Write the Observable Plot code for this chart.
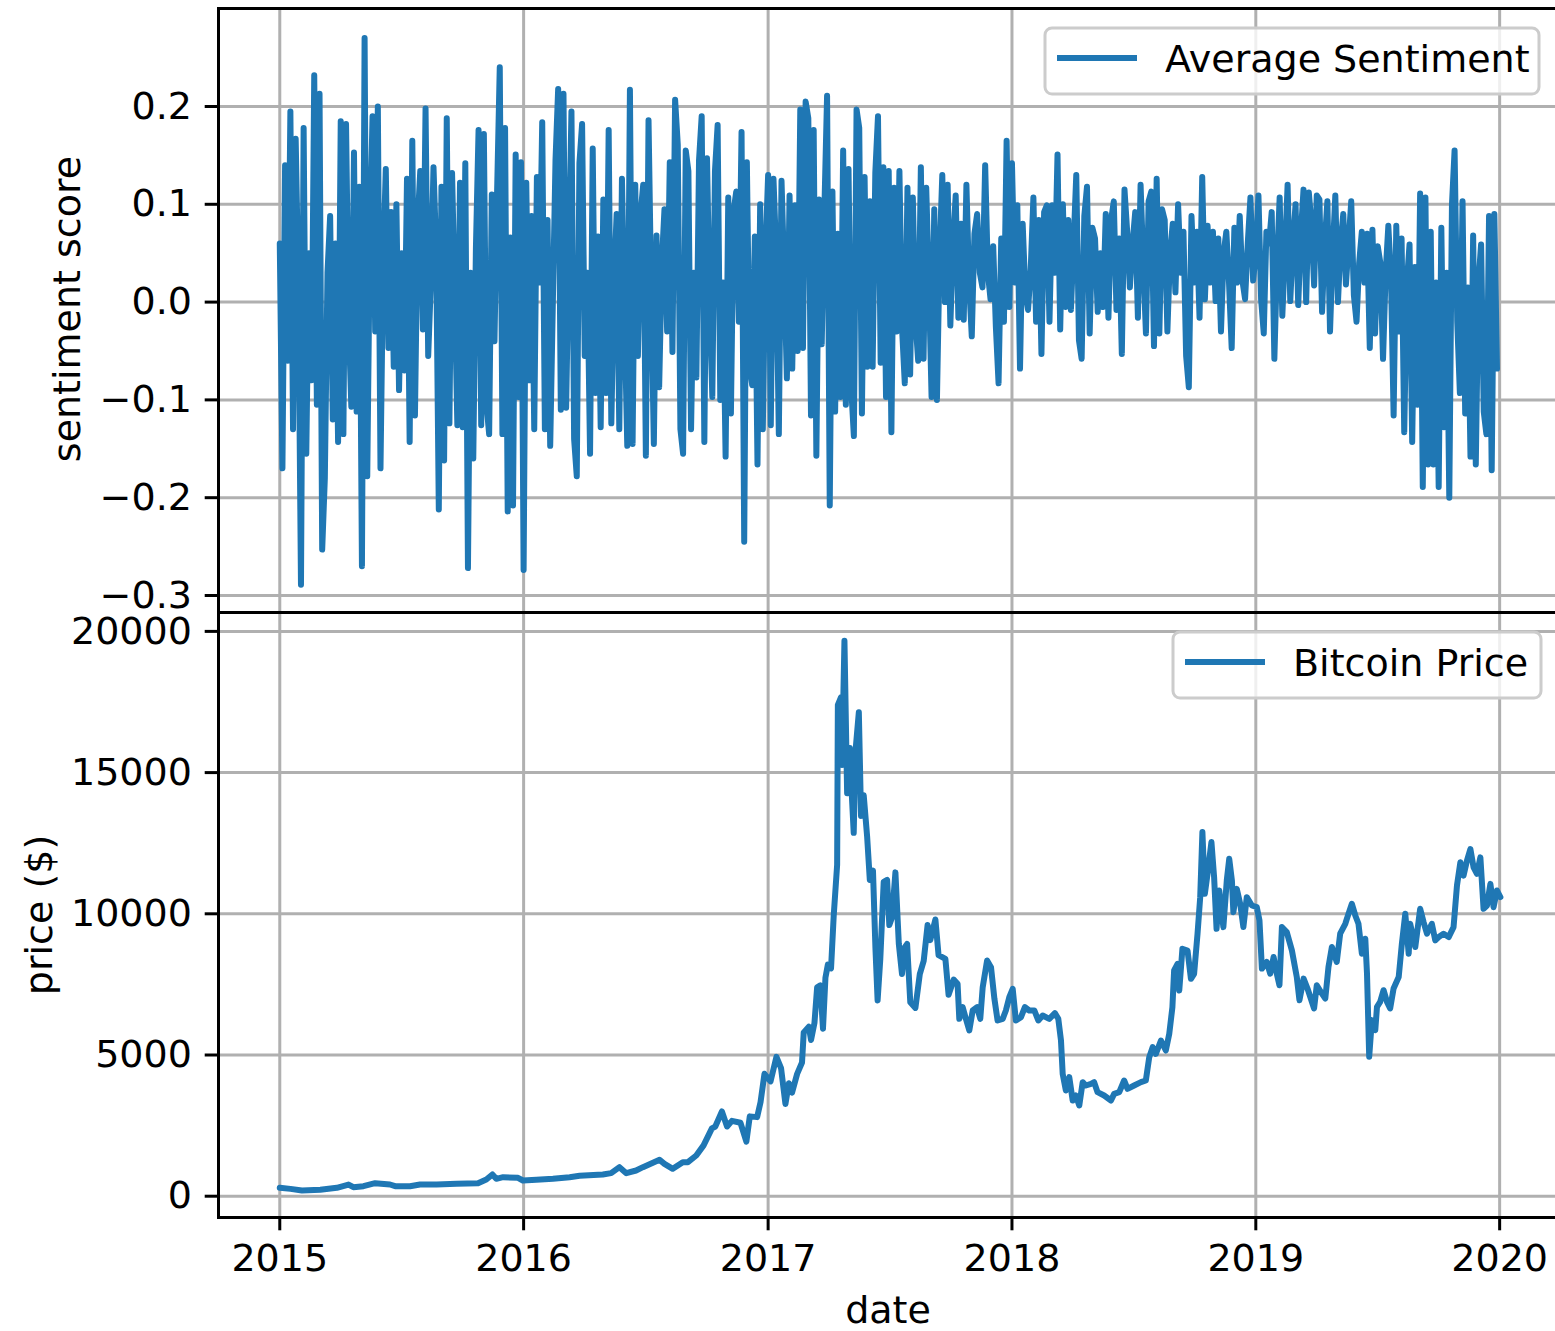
<!DOCTYPE html>
<html>
<head>
<meta charset="utf-8">
<script src="https://cdn.jsdelivr.net/npm/d3@7"></script>
<script src="https://cdn.jsdelivr.net/npm/@observablehq/plot@0.6"></script>
<style>
  html, body { margin: 0; padding: 0; background: white; overflow: hidden; }
  #chart { position: relative; width: 1555px; height: 1331px; overflow: hidden; background: white; }
  #chart svg { position: absolute; left: 0; }
</style>
</head>
<body>
<div id="chart"></div>
<script>
// Average daily sentiment score, sampled every few days through each year
const sentiment2015 = [0.06,-0.17,0.14,-0.06,0.195,-0.13,0.167,0.02,-0.289,0.178,
  -0.155,0.05,-0.08,0.232,-0.105,0.213,-0.253,-0.18,0.03,0.088,
  -0.12,0.06,-0.143,0.185,-0.135,0.182,-0.02,-0.107,0.153,-0.112,
  0.118,-0.27,0.27,-0.178,0.07,0.19,-0.03,0.2,-0.17,0.04,
  0.136,-0.047,0.092,-0.066,0.1,-0.09,0.05,-0.07,0.126,-0.143,
  0.165,-0.116,0.08,0.134,-0.028,0.198,-0.055,0.02,0.138,0.053,
  -0.212,0.118,-0.162,0.188,-0.124,0.132,0.01,-0.126,0.122,-0.128,
  0.142,-0.272,0.03,-0.16,0.055,0.176,-0.126,0.172,-0.105,-0.135,
  0.11,-0.04,0.113,0.24,-0.135,0.178,-0.214,0.066,-0.208,0.151,
  -0.097,0.143];
const sentiment2016 = [-0.274,0.122,-0.08,0.088,-0.13,0.128,0.02,0.184,-0.13,0.084,
  -0.147,0.0,0.145,0.218,-0.11,0.213,-0.108,0.05,0.195,-0.14,
  -0.178,0.142,0.182,-0.055,0.03,-0.155,0.157,-0.093,0.067,-0.128,
  0.105,-0.093,0.176,-0.124,0.02,0.09,-0.13,0.126,-0.02,-0.147,
  0.217,-0.145,0.12,-0.055,0.09,0.12,-0.157,0.186,0.01,-0.145,
  0.068,-0.087,0.04,0.095,-0.03,0.143,-0.051,0.207,0.161,-0.13,
  -0.155,0.155,0.134,-0.13,0.03,-0.077,0.145,0.19,-0.143,0.147,
  0.0,-0.097,0.134,0.181,-0.1,0.02,-0.158,0.107,-0.114,0.093,
  0.113,-0.02,0.174,-0.245,0.143,-0.064,-0.085,0.067,-0.166,0.1,
  -0.13,0.05];
const sentiment2017 = [0.13,-0.126,0.126,0.05,-0.135,0.124,0.03,-0.078,0.109,-0.068,
  0.099,-0.05,0.197,-0.047,0.205,0.188,-0.116,0.176,-0.157,0.105,
  -0.043,0.095,0.211,-0.208,0.113,-0.112,0.07,-0.097,0.155,-0.105,
  0.136,-0.087,-0.137,0.197,0.178,-0.114,0.128,-0.066,0.103,-0.066,
  0.132,0.19,-0.062,0.138,-0.097,0.134,-0.133,0.117,-0.03,0.134,
  -0.028,-0.083,0.117,-0.074,0.107,-0.02,-0.06,0.138,-0.058,0.117,
  0.02,-0.097,0.095,-0.1,0.05,0.13,0.0,0.12,-0.024,0.06,
  0.109,-0.016,0.08,-0.018,0.12,0.02,-0.035,0.07,0.09,0.03,
  0.015,0.14,0.03,0.003,0.057,-0.026,-0.083,0.065,-0.02,0.165,
  -0.005];
const sentiment2018 = [0.142,0.02,0.099,-0.068,0.08,0.01,-0.008,0.034,0.107,-0.02,
  0.084,-0.053,0.092,0.099,-0.02,0.099,0.03,0.151,-0.028,0.1,
  -0.005,0.084,-0.008,0.06,0.13,-0.039,-0.058,0.088,0.118,-0.032,
  0.076,0.065,-0.01,0.05,-0.005,0.09,-0.016,0.084,0.103,-0.008,
  0.065,-0.053,0.115,0.072,0.015,0.06,0.092,-0.016,0.12,0.04,
  -0.032,0.103,0.113,-0.045,0.126,-0.032,0.095,0.084,-0.03,0.05,
  0.08,0.01,0.1,0.03,0.072,-0.055,-0.087,0.088,0.02,0.072,
  -0.016,0.128,0.003,0.078,0.02,0.072,0.001,0.065,-0.03,0.05,
  0.072,0.02,-0.047,0.076,0.02,0.088,0.022,0.003,0.06,0.107,
  0.022];
const sentiment2019 = [0.05,0.109,0.003,-0.032,0.072,0.06,0.092,-0.058,0.04,0.107,
  -0.014,0.05,0.12,0.001,0.06,0.1,-0.003,0.07,0.115,0.0,
  0.112,0.08,0.017,0.109,0.105,-0.01,0.06,0.103,-0.03,0.05,
  0.109,0.0,0.06,0.09,0.018,0.06,0.103,0.007,-0.02,0.04,
  0.072,0.02,0.07,-0.047,0.074,-0.032,0.057,0.04,-0.058,0.03,
  0.078,0.026,-0.116,0.078,-0.03,0.065,-0.133,0.02,0.059,-0.143,
  0.036,-0.105,0.111,-0.189,0.107,-0.166,0.072,-0.166,0.02,-0.189,
  0.076,-0.128,0.03,-0.2,0.099,0.155,-0.02,-0.093,0.103,-0.114,
  0.015,-0.158,0.068,-0.166,0.02,0.059,-0.112,-0.135,0.088,-0.172,
  0.09,-0.068];

// Bitcoin closing price in USD: [decimal year, price]
const price2015 = [[2015.000,296],[2015.044,260],[2015.091,200],[2015.166,225],[2015.234,296],
  [2015.282,414],[2015.302,320],[2015.343,355],[2015.391,461],[2015.452,414],[2015.473,355],
  [2015.534,355],[2015.575,414],[2015.643,414],[2015.725,437],[2015.813,461],[2015.847,591],
  [2015.872,768],[2015.888,615],[2015.916,674],[2015.977,650],[2015.997,556]];
const price2016 = [[2016.052,579],[2016.120,615],[2016.188,674],[2016.229,721],[2016.324,768],
  [2016.358,816],[2016.392,1028],[2016.420,816],[2016.460,910],[2016.488,1028],[2016.556,1288],
  [2016.576,1147],[2016.610,970],[2016.651,1206],[2016.672,1206],[2016.706,1442],[2016.736,1800],
  [2016.770,2400],[2016.784,2467],[2016.811,3000],[2016.832,2467],[2016.852,2667],[2016.887,2600],
  [2016.911,1933],[2016.925,2827],[2016.955,2800],[2016.969,3333],[2016.985,4333]];
const price2017 = [[2017.010,4067],[2017.034,4933],[2017.053,4533],[2017.071,3267],[2017.085,4000],
  [2017.098,3667],[2017.119,4333],[2017.139,4733],[2017.146,5800],[2017.167,6000],[2017.176,5533],
  [2017.190,6133],[2017.201,7400],[2017.214,7467],[2017.225,5933],[2017.235,7733],[2017.245,8200],
  [2017.258,8067],[2017.269,9933],[2017.283,11733],[2017.286,17400],[2017.299,17667],[2017.303,15267],
  [2017.313,19667],[2017.324,14267],[2017.335,15867],[2017.344,14067],[2017.351,12867],[2017.358,15733],
  [2017.372,17133],[2017.381,13467],[2017.392,14200],[2017.406,12733],[2017.417,11200],[2017.430,11533],
  [2017.440,8800],[2017.449,6933],[2017.460,8400],[2017.474,11133],[2017.488,11200],[2017.497,9600],
  [2017.508,9867],[2017.522,11467],[2017.536,8933],[2017.549,7867],[2017.559,8800],[2017.570,8933],
  [2017.583,6867],[2017.604,6667],[2017.622,7867],[2017.638,8333],[2017.654,9600],[2017.665,9067],
  [2017.686,9800],[2017.699,8533],[2017.727,8400],[2017.740,7133],[2017.761,7667],[2017.777,7521],
  [2017.784,6281],[2017.798,6694],[2017.811,6281],[2017.825,5868],[2017.839,6576],[2017.857,6694],
  [2017.870,6281],[2017.880,7403],[2017.898,8347],[2017.914,8111],[2017.928,6990],[2017.941,6222],
  [2017.962,6281],[2017.975,6576],[2017.989,7048]];
const price2018 = [[2018.003,7343],[2018.016,6222],[2018.037,6340],[2018.053,6694],[2018.071,6576],
  [2018.092,6576],[2018.108,6222],[2018.126,6399],[2018.153,6281],[2018.176,6482],[2018.190,6281],
  [2018.201,5514],[2018.208,4333],[2018.221,3743],[2018.235,4215],[2018.249,3388],[2018.262,3565],
  [2018.276,3211],[2018.290,4038],[2018.303,3920],[2018.324,3979],[2018.337,4038],[2018.351,3684],
  [2018.378,3565],[2018.406,3388],[2018.419,3624],[2018.440,3684],[2018.460,4097],[2018.474,3802],
  [2018.501,3920],[2018.529,4038],[2018.549,4097],[2018.563,4923],[2018.577,5277],[2018.590,5041],
  [2018.611,5514],[2018.631,5159],[2018.645,5750],[2018.658,6694],[2018.665,7993],[2018.679,8229],
  [2018.686,7284],[2018.699,8760],[2018.720,8701],[2018.734,7698],[2018.747,7875],[2018.761,9292],
  [2018.772,10590],[2018.781,12893],[2018.791,10708],[2018.802,11417],[2018.818,12539],[2018.829,11299],
  [2018.839,9469],[2018.850,10827],[2018.867,9528],[2018.881,11181],[2018.891,11949],[2018.902,11176],
  [2018.908,10059],[2018.922,10882],[2018.936,10353],[2018.949,9529],[2018.963,10588],[2018.984,10294]];
const price2019 = [[2019.004,10235],[2019.015,9765],[2019.025,8059],[2019.045,8294],[2019.059,7882],
  [2019.073,8471],[2019.086,7882],[2019.097,7471],[2019.107,9529],[2019.127,9353],[2019.148,8706],
  [2019.168,7765],[2019.179,6941],[2019.196,7706],[2019.212,7353],[2019.239,6647],[2019.250,7471],
  [2019.271,7176],[2019.285,7000],[2019.298,8118],[2019.312,8824],[2019.332,8294],[2019.346,9294],
  [2019.367,9647],[2019.380,10000],[2019.394,10353],[2019.408,9941],[2019.421,9647],[2019.435,8588],
  [2019.449,9118],[2019.456,7882],[2019.465,4941],[2019.476,6235],[2019.490,5882],[2019.497,6706],
  [2019.510,6882],[2019.524,7294],[2019.538,6882],[2019.551,6647],[2019.565,7353],[2019.586,7765],
  [2019.599,8941],[2019.613,10000],[2019.627,8588],[2019.633,9647],[2019.654,8824],[2019.674,10176],
  [2019.688,9706],[2019.702,9294],[2019.722,9647],[2019.736,9059],[2019.750,9176],[2019.770,9294],
  [2019.791,9176],[2019.811,9529],[2019.825,11000],[2019.839,11824],[2019.852,11353],[2019.866,11882],
  [2019.880,12294],[2019.893,11647],[2019.907,11412],[2019.921,12000],[2019.934,10176],[2019.948,10294],
  [2019.962,11059],[2019.975,10235],[2019.989,10824],[2020.003,10588]];

// Tick values
const yearTicks = [2015, 2016, 2017, 2018, 2019, 2020];
const sentimentTicks = [-0.3, -0.2, -0.1, 0.0, 0.1, 0.2];
const priceTicks = [0, 5000, 10000, 15000, 20000];

// Convert a decimal year (e.g. 2017.25) into a UTC date
function fromDecimalYear(t) {
  const y = Math.floor(t);
  const start = Date.UTC(y, 0, 1), end = Date.UTC(y + 1, 0, 1);
  return new Date(start + (t - y) * (end - start));
}

const sentiment = [[2015, sentiment2015], [2016, sentiment2016], [2017, sentiment2017],
                   [2018, sentiment2018], [2019, sentiment2019]]
  .flatMap(([year, values]) => values.map((v, k) => ({date: fromDecimalYear(year + k / values.length), value: v})));

const price = [price2015, price2016, price2017, price2018, price2019].flat()
  .map(([t, usd]) => ({date: fromDecimalYear(t), value: usd}));

const yearDates = yearTicks.map(y => new Date(Date.UTC(y, 0, 1)));
const xDomain = [fromDecimalYear(2014.7487), fromDecimalYear(2020.2407)];

const BLUE = "#1f77b4";
const GRID = "#b0b0b0";
const LW = 3;         // spine / grid / tick width
const TICK = 13.3;    // tick length and padding
const LINE = 6;       // series line width
const FS = 38;        // font size
const FONT = "DejaVu Sans, sans-serif";

const plotStyle = {
  background: "transparent", color: "black", fontFamily: FONT,
  fontSize: FS + "px", overflow: "visible", maxWidth: "none"
};

const fmtSentiment = d => (d < 0 ? "\u2212" : "") + Math.abs(d).toFixed(1);

// Upper panel: sentiment score
const topPlot = Plot.plot({
  width: 1560, height: 613,
  marginLeft: 218, marginRight: 2, marginTop: 8, marginBottom: 1,
  style: plotStyle,
  x: {type: "utc", domain: xDomain, axis: null},
  y: {domain: [-0.3174, 0.3002], axis: null},
  marks: [
    Plot.gridX(yearDates, {stroke: GRID, strokeOpacity: 1, strokeWidth: LW}),
    Plot.gridY(sentimentTicks, {stroke: GRID, strokeOpacity: 1, strokeWidth: LW}),
    Plot.line(sentiment, {x: "date", y: "value", stroke: BLUE, strokeWidth: LINE,
      strokeLinejoin: "round", strokeLinecap: "round", className: "series"}),
    Plot.axisY(sentimentTicks, {tickFormat: fmtSentiment, tickSize: TICK, tickPadding: TICK,
      strokeWidth: LW, label: null, fontSize: FS}),
    Plot.frame({stroke: "black", strokeWidth: LW})
  ]
});

// Lower panel: Bitcoin price
const bottomPlot = Plot.plot({
  width: 1560, height: 719,
  marginLeft: 218, marginRight: 2, marginTop: 0, marginBottom: 114,
  style: plotStyle,
  x: {type: "utc", domain: xDomain, axis: null},
  y: {domain: [-754, 20669], axis: null},
  marks: [
    Plot.gridX(yearDates, {stroke: GRID, strokeOpacity: 1, strokeWidth: LW}),
    Plot.gridY(priceTicks, {stroke: GRID, strokeOpacity: 1, strokeWidth: LW}),
    Plot.line(price, {x: "date", y: "value", stroke: BLUE, strokeWidth: LINE,
      strokeLinejoin: "round", strokeLinecap: "round", className: "series"}),
    Plot.axisX(yearDates, {tickFormat: d3.utcFormat("%Y"), tickSize: TICK, tickPadding: TICK,
      strokeWidth: LW, label: null, fontSize: FS}),
    Plot.axisY(priceTicks, {tickFormat: d => String(d), tickSize: TICK, tickPadding: TICK,
      strokeWidth: LW, label: null, fontSize: FS}),
    Plot.frame({stroke: "black", strokeWidth: LW})
  ]
});

// Make sure the series lines keep their full width
for (const svg of [topPlot, bottomPlot]) {
  d3.select(svg).selectAll("g[aria-label='line'], g[aria-label='line'] path, .series, .series path")
    .attr("stroke-width", LINE).style("stroke-width", LINE + "px");
}

const chart = document.getElementById("chart");
topPlot.style.top = "0px";
bottomPlot.style.top = "612px";
chart.appendChild(topPlot);
chart.appendChild(bottomPlot);

// Axis titles and legends
const overlay = d3.select(chart).append("svg")
  .attr("width", 1555).attr("height", 1331)
  .style("top", "0px").style("pointer-events", "none")
  .style("font-family", FONT).style("font-size", FS + "px");

overlay.append("text").attr("transform", "translate(80,309) rotate(-90)")
  .attr("text-anchor", "middle").text("sentiment score");
overlay.append("text").attr("transform", "translate(52,915) rotate(-90)")
  .attr("text-anchor", "middle").text("price ($)");
overlay.append("text").attr("x", 888).attr("y", 1323)
  .attr("text-anchor", "middle").text("date");

function legend(x, y, w, h, label) {
  const g = overlay.append("g");
  g.append("rect").attr("x", x).attr("y", y).attr("width", w).attr("height", h)
    .attr("rx", 7).attr("fill", "white").attr("fill-opacity", 0.8)
    .attr("stroke", "#cccccc").attr("stroke-width", LW);
  g.append("line").attr("x1", x + 15).attr("x2", x + 89)
    .attr("y1", y + 30).attr("y2", y + 30)
    .attr("stroke", BLUE).attr("stroke-width", LINE).attr("stroke-linecap", "square");
  g.append("text").attr("x", x + 120).attr("y", y + 44).attr("fill", "black").text(label);
}
legend(1045, 28, 494, 66, "Average Sentiment");
legend(1173, 632, 368, 66, "Bitcoin Price");
</script>
</body>
</html>
